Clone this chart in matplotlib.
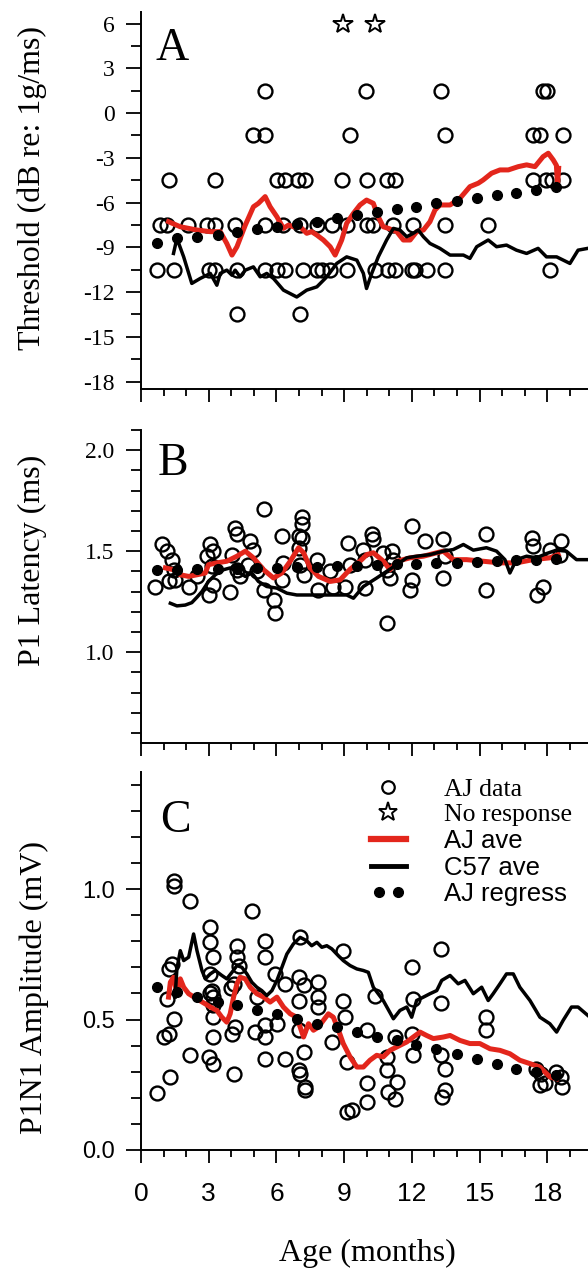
import numpy as np
import matplotlib
matplotlib.use('Agg')
import matplotlib.pyplot as plt
from matplotlib.ticker import MultipleLocator, FormatStrFormatter
from matplotlib.lines import Line2D
from matplotlib.legend_handler import HandlerLine2D

SERIF = 'Liberation Serif'
SANS = 'Liberation Sans'
RED = '#e3261c'

# ---------------- Panel A: threshold (dB re: 1g/ms) ----------------
a_x = [5.5, 9.97, 13.3, 17.8, 17.98,
       4.98, 5.5, 9.26, 13.46, 17.37, 17.67, 18.7,
       1.22, 3.29, 6.02, 6.38, 6.97, 7.27, 8.89, 10.0, 10.88, 11.25, 17.37, 17.96, 18.19, 18.7,
       0.85, 1.14, 2.1, 2.92, 3.29, 4.17, 5.5, 6.31, 7.05, 7.79, 8.45, 9.11, 9.99, 10.29,
       11.18, 12.06, 13.46, 15.38,
       0.71, 1.44, 2.99, 3.29, 4.25, 5.5, 6.02, 6.38, 7.19, 7.79, 8.0, 8.38, 9.11, 10.37,
       10.96, 11.25, 11.99, 12.14, 12.65, 13.46, 18.11,
       4.25, 7.05]
a_y = [1.5, 1.5, 1.5, 1.5, 1.5,
       -1.5, -1.5, -1.5, -1.5, -1.5, -1.5, -1.5,
       -4.5, -4.5, -4.5, -4.5, -4.5, -4.5, -4.5, -4.5, -4.5, -4.5, -4.5, -4.5, -4.5, -4.5,
       -7.5, -7.5, -7.5, -7.5, -7.5, -7.5, -7.5, -7.5, -7.5, -7.5, -7.5, -7.5, -7.5, -7.5,
       -7.5, -7.5, -7.5, -7.5,
       -10.5, -10.5, -10.5, -10.5, -10.5, -10.5, -10.5, -10.5, -10.5, -10.5, -10.5, -10.5,
       -10.5, -10.5, -10.5, -10.5, -10.5, -10.5, -10.5, -10.5, -10.5,
       -13.5, -13.5]
star_x = [8.95, 10.37]
star_y = [6, 6]

a_aj_x = [1.22, 1.74, 2.48, 3.07, 3.51, 3.80, 4.03, 4.25, 4.62, 4.98, 5.2, 5.5, 5.72, 6.02,
          6.31, 6.53, 6.75, 7.05, 7.34, 7.56, 7.79, 8.08, 8.38, 8.6, 8.89, 9.11, 9.41, 9.7,
          9.99, 10.29, 10.51, 10.73, 10.96, 11.33, 11.62, 11.92, 12.21, 12.51, 12.8, 13.02,
          13.24, 13.69, 14.13, 14.57, 14.94, 15.16, 15.53, 15.9, 16.27, 16.71, 17.08, 17.45,
          17.81, 18.04, 18.26, 18.4, 18.45, 18.5]
a_aj_y = [-7.28, -7.62, -7.84, -7.95, -7.95, -8.74, -9.52, -8.96, -7.51, -6.28, -6.05, -5.6,
          -6.28, -6.95, -7.73, -7.51, -7.62, -7.62, -8.06, -7.95, -8.18, -8.51, -8.96, -9.52,
          -8.51, -7.39, -6.72, -6.16, -5.83, -6.05, -6.95, -7.62, -7.73, -7.95, -8.51, -8.51,
          -7.95, -7.84, -7.28, -6.5, -6.16, -6.16, -5.71, -4.93, -4.7, -4.48, -4.03, -3.81,
          -3.81, -3.59, -3.47, -3.59, -2.92, -2.69, -3.14, -3.5, -4.9, -3.7]

a_c57_x = [1.44, 1.59, 1.89, 2.25, 2.62, 3.07, 3.36, 3.51, 3.8, 4.03, 4.17, 4.39, 4.62, 4.98,
           5.28, 5.57, 5.87, 6.31, 6.9, 7.34, 7.79, 8.23, 8.67, 9.11, 9.56, 9.85, 9.99, 10.22,
           10.51, 10.88, 11.18, 11.47, 11.77, 12.06, 12.28, 12.51, 12.8, 13.24, 13.69, 14.28,
           14.57, 14.87, 15.38, 15.75, 16.19, 16.63, 17.08, 17.59, 17.96, 18.41, 19.0, 19.36, 19.79]
a_c57_y = [-9.41, -8.4, -9.64, -11.42, -11.09, -10.75, -11.54, -10.75, -10.53, -10.87, -10.53,
           -10.98, -10.53, -10.31, -10.98, -10.75, -11.09, -11.87, -12.33, -11.87, -11.65, -10.98,
           -10.08, -9.64, -9.86, -10.75, -11.76, -10.75, -9.64, -8.51, -7.73, -7.84, -8.29, -8.06,
           -7.84, -8.29, -8.74, -9.07, -9.52, -9.52, -9.74, -8.96, -8.51, -8.96, -8.85, -9.19,
           -9.41, -9.07, -9.64, -9.64, -10.08, -9.19, -9.07]

reg_x = [0.71, 1.59, 2.48, 3.39, 4.25, 5.13, 6.02, 6.9, 7.79, 8.67, 9.56, 10.44, 11.33, 12.18,
         13.07, 13.98, 14.87, 15.75, 16.63, 17.49, 18.37]
a_reg_y = [-8.74, -8.4, -8.33, -8.18, -7.95, -7.8, -7.62, -7.44, -7.28, -7.06, -6.83, -6.61,
           -6.45, -6.28, -6.05, -5.87, -5.71, -5.49, -5.34, -5.15, -4.97]

# ---------------- Panel B: P1 latency (ms) ----------------
b_x = [0.93, 1.15, 1.37, 1.44, 0.63, 1.22, 1.52, 2.11, 2.48, 3.07, 3.21, 2.92, 3.14, 3.21,
       2.99, 3.95, 4.17, 4.25, 4.03, 4.25, 4.39, 4.84, 4.98, 4.76, 5.13, 5.43, 5.43, 5.87,
       5.94, 6.24, 6.31, 6.24, 6.98, 7.12, 7.12, 7.12, 6.98, 7.05, 7.2, 7.79, 7.86, 8.38,
       8.52, 9.04, 9.19, 9.26, 9.85, 10.22, 10.29, 9.93, 10.74, 11.1, 11.18, 10.88, 11.03,
       9.93, 11.99, 11.99, 11.92, 12.58, 13.39, 13.46, 13.39, 10.88, 15.3, 15.3, 17.3, 17.37,
       18.11, 18.62, 18.55, 17.81, 17.52]
b_y = [1.533, 1.5, 1.458, 1.408, 1.325, 1.35, 1.358, 1.325, 1.375, 1.533, 1.5, 1.475, 1.425,
       1.333, 1.283, 1.3, 1.617, 1.583, 1.483, 1.408, 1.375, 1.55, 1.508, 1.433, 1.4, 1.71,
       1.308, 1.258, 1.192, 1.575, 1.442, 1.358, 1.575, 1.667, 1.633, 1.567, 1.517, 1.433,
       1.383, 1.458, 1.308, 1.4, 1.325, 1.325, 1.542, 1.433, 1.508, 1.583, 1.558, 1.458,
       1.492, 1.5, 1.458, 1.408, 1.367, 1.317, 1.625, 1.358, 1.308, 1.55, 1.558, 1.475, 1.367,
       1.142, 1.583, 1.308, 1.567, 1.525, 1.508, 1.55, 1.483, 1.325, 1.283]

b_aj_x = [1.08, 1.44, 1.74, 2.11, 2.48, 2.85, 2.99, 3.36, 3.8, 4.25, 4.62, 4.98, 5.43, 5.87,
          6.24, 6.61, 6.98, 7.2, 7.49, 7.86, 8.38, 8.82, 9.26, 9.7, 10.0, 10.29, 10.74, 11.03,
          11.33, 11.92, 12.51, 13.1, 13.39, 13.83, 14.42, 15.16, 15.9, 16.63, 17.37, 18.11, 18.48]
b_aj_y = [1.417, 1.408, 1.383, 1.375, 1.383, 1.392, 1.433, 1.442, 1.45, 1.475, 1.5, 1.467,
          1.408, 1.367, 1.392, 1.45, 1.517, 1.492, 1.417, 1.375, 1.35, 1.358, 1.41, 1.45,
          1.483, 1.492, 1.45, 1.408, 1.45, 1.467, 1.475, 1.492, 1.5, 1.458, 1.458, 1.45, 1.442,
          1.442, 1.458, 1.467, 1.483]

b_c57_x = [1.3, 1.59, 1.96, 2.25, 2.48, 2.7, 2.99, 3.29, 3.65, 3.95, 4.25, 4.62, 4.91, 5.2,
           5.57, 6.02, 6.46, 6.9, 7.49, 8.08, 8.67, 9.11, 9.41, 9.85, 10.44, 10.88, 11.33,
           11.77, 12.21, 12.8, 13.39, 13.83, 14.28, 14.72, 15.3, 15.75, 16.12, 16.34, 16.63,
           17.08, 17.52, 17.96, 18.4, 18.84, 19.29, 19.79]
b_c57_y = [1.242, 1.229, 1.233, 1.245, 1.272, 1.3, 1.35, 1.383, 1.408, 1.417, 1.4, 1.375,
           1.392, 1.35, 1.325, 1.317, 1.292, 1.283, 1.283, 1.283, 1.283, 1.283, 1.267, 1.325,
           1.367, 1.4, 1.433, 1.467, 1.475, 1.483, 1.5, 1.508, 1.533, 1.505, 1.517, 1.5, 1.458,
           1.392, 1.458, 1.475, 1.467, 1.488, 1.505, 1.5, 1.458, 1.458]

b_reg_y = [1.405, 1.407, 1.41, 1.412, 1.414, 1.416, 1.418, 1.421, 1.423, 1.426, 1.428, 1.431,
           1.434, 1.437, 1.44, 1.443, 1.447, 1.45, 1.454, 1.458, 1.462]

# ---------------- Panel C: P1N1 amplitude (mV) ----------------
c_x = [1.44, 1.44, 2.15, 4.91, 3.07, 3.07, 3.21, 3.07, 4.25, 4.25, 4.32, 5.5, 5.5, 7.05,
       8.96, 1.22, 1.37, 1.15, 1.44, 1.0, 1.22, 2.18, 2.99, 3.21, 1.29, 0.71, 4.1, 3.14,
       3.21, 3.21, 3.21, 3.21, 4.1, 4.03, 4.17, 5.06, 5.13, 5.5, 5.5, 5.5, 5.94, 6.02, 6.38,
       6.38, 6.98, 7.2, 7.86, 7.86, 7.86, 6.98, 6.98, 7.2, 7.0, 7.05, 7.27, 7.27, 8.96, 9.04,
       8.45, 9.11, 10.0, 10.37, 10.88, 10.88, 11.25, 11.33, 10.96, 11.99, 12.06, 11.99, 12.06,
       13.3, 13.3, 13.3, 13.46, 13.46, 15.3, 15.3, 17.7, 18.4, 18.6, 18.63, 17.9, 17.5, 9.11,
       9.33, 10.0, 10.0, 11.25, 13.32, 17.67, 4.0, 3.07]
c_y = [1.03, 1.013, 0.955, 0.917, 0.856, 0.796, 0.739, 0.675, 0.783, 0.739, 0.707, 0.802,
       0.739, 0.815, 0.764, 0.694, 0.713, 0.58, 0.503, 0.433, 0.446, 0.363, 0.357, 0.331,
       0.28, 0.217, 0.29, 0.611, 0.586, 0.554, 0.509, 0.433, 0.637, 0.446, 0.471, 0.452,
       0.586, 0.478, 0.433, 0.35, 0.675, 0.484, 0.637, 0.35, 0.662, 0.631, 0.643, 0.586,
       0.548, 0.573, 0.459, 0.376, 0.306, 0.293, 0.242, 0.229, 0.573, 0.509, 0.414, 0.337,
       0.459, 0.592, 0.357, 0.306, 0.433, 0.261, 0.223, 0.70, 0.58, 0.446, 0.363, 0.771,
       0.563, 0.363, 0.312, 0.229, 0.509, 0.459, 0.293, 0.30, 0.28, 0.242, 0.255, 0.31, 0.146,
       0.153, 0.185, 0.255, 0.197, 0.204, 0.248, 0.62, 0.60]

c_aj_x = [1.22, 1.3, 1.44, 1.59, 1.74, 1.89, 2.11, 2.48, 2.85, 3.07, 3.36, 3.58, 3.8, 3.95,
          4.1, 4.25, 4.39, 4.62, 4.84, 5.13, 5.43, 5.72, 6.02, 6.31, 6.61, 6.9, 7.05, 7.2,
          7.42, 7.64, 7.86, 8.08, 8.3, 8.52, 8.75, 8.96, 9.26, 9.56, 9.85, 10.14, 10.44, 10.73,
          11.03, 11.33, 11.77, 12.06, 12.36, 12.65, 12.95, 13.39, 13.69, 14.13, 14.57, 15.01,
          15.46, 15.9, 16.34, 16.78, 17.23, 17.67, 18.11, 18.41]
c_aj_y = [0.586, 0.643, 0.662, 0.599, 0.656, 0.624, 0.599, 0.579, 0.56, 0.548, 0.535, 0.509,
          0.49, 0.522, 0.586, 0.637, 0.662, 0.656, 0.624, 0.599, 0.586, 0.567, 0.586, 0.548,
          0.522, 0.509, 0.471, 0.433, 0.484, 0.459, 0.471, 0.497, 0.522, 0.509, 0.459, 0.408,
          0.357, 0.318, 0.318, 0.344, 0.363, 0.357, 0.382, 0.395, 0.414, 0.433, 0.452, 0.439,
          0.427, 0.433, 0.439, 0.42, 0.408, 0.408, 0.388, 0.382, 0.369, 0.344, 0.331, 0.318,
          0.28, 0.273]

c_c57_x = [1.51, 1.59, 1.74, 1.89, 2.11, 2.33, 2.48, 2.7, 2.85, 3.07, 3.29, 3.58, 3.8, 4.03,
           4.25, 4.47, 4.69, 4.91, 5.13, 5.35, 5.57, 5.8, 6.02, 6.24, 6.46, 6.75, 7.05, 7.34,
           7.56, 7.79, 8.01, 8.23, 8.45, 8.67, 8.96, 9.26, 9.56, 9.85, 10.07, 10.29, 10.73,
           11.18, 11.47, 11.77, 11.99, 12.21, 12.51, 12.8, 13.1, 13.32, 13.69, 14.05, 14.35,
           14.72, 15.09, 15.38, 15.6, 15.9, 16.19, 16.49, 16.78, 17.23, 17.67, 18.11, 18.41,
           18.7, 19.07, 19.36, 19.79]
c_c57_y = [0.586, 0.694, 0.764, 0.726, 0.739, 0.828, 0.764, 0.688, 0.656, 0.675, 0.688, 0.669,
           0.656, 0.681, 0.707, 0.7, 0.675, 0.643, 0.624, 0.611, 0.592, 0.611, 0.65, 0.7, 0.751,
           0.79, 0.815, 0.802, 0.783, 0.796, 0.777, 0.783, 0.771, 0.751, 0.726, 0.707, 0.694,
           0.688, 0.681, 0.624, 0.573, 0.503, 0.535, 0.548, 0.509, 0.573, 0.586, 0.599, 0.611,
           0.65, 0.669, 0.637, 0.65, 0.599, 0.624, 0.573, 0.599, 0.637, 0.675, 0.675, 0.624,
           0.573, 0.509, 0.484, 0.452, 0.497, 0.548, 0.548, 0.516]

c_reg_y = [0.624, 0.605, 0.586, 0.567, 0.554, 0.535, 0.522, 0.503, 0.484, 0.471, 0.452, 0.433,
           0.42, 0.401, 0.388, 0.369, 0.35, 0.331, 0.312, 0.299, 0.286]

W, H = 588, 1273
fig = plt.figure(figsize=(W / 100, H / 100), dpi=100)


def px_axes(top, bottom):
    left = 141
    return fig.add_axes([left / W, (H - bottom) / H, (W - left) / W, (bottom - top) / H])


def style(ax, ymaj, ymin, tickfont, xlabels=False):
    for s in ['top', 'right']:
        ax.spines[s].set_visible(False)
    for s in ['left', 'bottom']:
        ax.spines[s].set_linewidth(1.4)
    ax.set_xlim(0, 19.8)
    ax.xaxis.set_major_locator(MultipleLocator(3))
    ax.xaxis.set_minor_locator(MultipleLocator(1))
    ax.yaxis.set_major_locator(MultipleLocator(ymaj))
    ax.yaxis.set_minor_locator(MultipleLocator(ymin))
    ax.tick_params(axis='y', which='major', direction='out', length=11, width=1.3, pad=8,
                   labelsize=17, labelfontfamily=tickfont)
    ax.tick_params(axis='y', which='minor', direction='out', length=7, width=1.3)
    ax.tick_params(axis='x', which='major', direction='out', length=9, width=1.3, pad=14,
                   labelsize=19, labelbottom=xlabels, labelfontfamily=SANS)
    ax.tick_params(axis='x', which='minor', direction='out', length=5, width=1.3)


def draw(ax, x, y, ajx, ajy, c57x, c57y, regy):
    ax.plot(x, y, ls='none', marker='o', ms=10, mfc='none', mec='k', mew=1.7, zorder=2)
    ax.plot(ajx, ajy, color=RED, lw=3.6, zorder=3)
    ax.plot(c57x, c57y, color='k', lw=2.5, zorder=3)
    ax.plot(reg_x, regy, ls='none', marker='o', ms=7, color='k', zorder=4)


# A
axA = px_axes(11.7, 389)
draw(axA, a_x, a_y, a_aj_x, a_aj_y, a_c57_x, a_c57_y, a_reg_y)
axA.plot(star_x, star_y, ls='none', marker='*', ms=15, mfc='none', mec='k', mew=1.4)
axA.set_ylim(-18.5, 6.8)
style(axA, 3, 1.5, SERIF)
axA.yaxis.set_major_formatter(FormatStrFormatter('%d'))

# B
axB = px_axes(430, 743)
draw(axB, b_x, b_y, b_aj_x, b_aj_y, b_c57_x, b_c57_y, b_reg_y)
axB.set_ylim(0.55, 2.1)
style(axB, 0.5, 0.1, SERIF)
axB.yaxis.set_major_formatter(FormatStrFormatter('%.1f'))

# C
axC = px_axes(771.7, 1150)
draw(axC, c_x, c_y, c_aj_x, c_aj_y, c_c57_x, c_c57_y, c_reg_y)
axC.set_ylim(0, 1.45)
style(axC, 0.5, 0.1, SANS, xlabels=True)
axC.yaxis.set_major_formatter(FormatStrFormatter('%.1f'))

# panel letters and axis titles
for letter, xp, yp in [('A', 155, 60), ('B', 158, 475), ('C', 160, 832)]:
    fig.text(xp / W, (H - yp) / H, letter, fontsize=33, family=SERIF, va='baseline')

for lab, xp, yp in [('Threshold (dB re: 1g/ms)', 32, 188), ('P1 Latency (ms)', 32, 560),
                    ('P1N1 Amplitude (mV)', 34, 987)]:
    fig.text(xp / W, (H - yp) / H, lab, fontsize=23, family=SERIF, rotation=90,
             ha='center', va='center')
fig.text(367 / W, (H - 1253) / H, 'Age (months)', fontsize=23, family=SERIF,
         ha='center', va='center')

# legend
handles = [
    Line2D([], [], ls='none', marker='o', ms=9, mfc='none', mec='k', mew=1.6),
    Line2D([], [], ls='none', marker='*', ms=14, mfc='none', mec='k', mew=1.4),
    Line2D([], [], color=RED, lw=4.5),
    Line2D([], [], color='k', lw=3.5),
    Line2D([], [], ls='none', marker='o', ms=7, color='k'),
]
labels = ['AJ data', 'No response', 'AJ ave', 'C57 ave', 'AJ regress']
leg = axC.legend(handles, labels, loc='upper left', bbox_to_anchor=(358 / W, (H - 765) / H),
                 bbox_transform=fig.transFigure, frameon=False, fontsize=18.5, borderpad=0,
                 handlelength=1.35, handletextpad=1.5, labelspacing=0.1, numpoints=1,
                 handler_map={handles[4]: HandlerLine2D(numpoints=2)})
for i, t in enumerate(leg.get_texts()):
    t.set_fontfamily(SERIF if i < 2 else SANS)

fig.savefig('out.png', dpi=100)
